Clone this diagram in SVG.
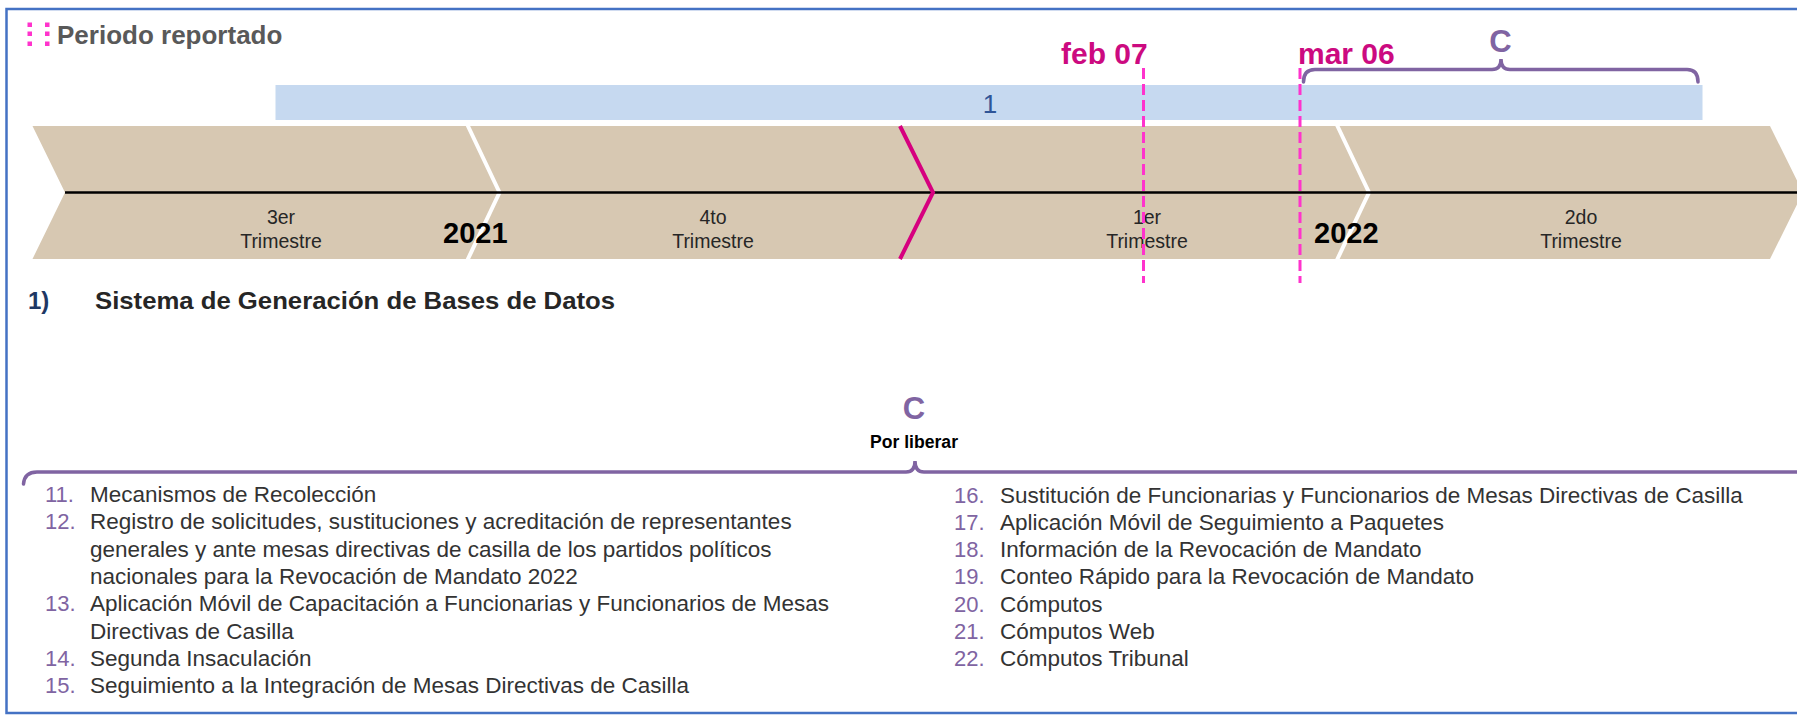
<svg xmlns="http://www.w3.org/2000/svg" width="1797" height="716" viewBox="0 0 1797 716">
<defs>
<style>
text { font-family: "Liberation Sans", Arial, sans-serif; }
.band-lbl { font-size: 19.5px; fill: #262626; text-anchor: middle; }
.year { font-size: 29px; font-weight: bold; fill: #000000; }
.date { font-size: 30px; font-weight: bold; fill: #CC0A80; }
.c { font-size: 31px; font-weight: bold; fill: #8064A2; text-anchor: middle; }
.num { font-size: 22px; fill: #8064A2; }
.item { font-size: 22.5px; fill: #333333; }
.dash { stroke: #FF33CC; stroke-width: 3; stroke-dasharray: 11 5; fill: none; }
.brace { stroke: #8064A2; stroke-width: 3.5; fill: none; stroke-linecap: round; }
.dot { fill: #FF33CC; }
.sep { stroke: #FFFFFF; stroke-width: 4; fill: none; }
</style>
</defs>

<rect id="frame" x="6.5" y="9" width="1800" height="704" fill="#FFFFFF" stroke="#4472C4" stroke-width="2.5"/>

<g id="header">
  <rect class="dot" x="27.5" y="22.5" width="4.5" height="4.5"/>
  <rect class="dot" x="27.5" y="31.5" width="4.5" height="4.5"/>
  <rect class="dot" x="27.5" y="41.5" width="4.5" height="4.5"/>
  <rect class="dot" x="45" y="22.5" width="4.5" height="4.5"/>
  <rect class="dot" x="45" y="31.5" width="4.5" height="4.5"/>
  <rect class="dot" x="45" y="41.5" width="4.5" height="4.5"/>
  <text x="57" y="43.5" font-size="26" font-weight="bold" fill="#595959">Periodo reportado</text>
</g>

<g id="period-bar">
  <rect x="275.5" y="85" width="1427" height="35" fill="#C6D9F0"/>
  <text x="990" y="113" font-family="'Open Sans', 'Liberation Sans', sans-serif" font-size="26" fill="#2F5597" text-anchor="middle">1</text>
</g>

<g id="timeline">
  <polygon points="32.5,126 1770,126 1803,192.5 1770,259 32.5,259 65,192.5" fill="#D7C8B2"/>
  <polyline class="sep" points="467,124 499.5,192.5 467,261"/>
  <polyline class="sep" points="1336.5,124 1369,192.5 1336.5,261"/>
  <line x1="65" y1="192.5" x2="1797" y2="192.5" stroke="#000000" stroke-width="2.5"/>
  <polyline points="900,126 933,192.5 900,259" fill="none" stroke="#D6007F" stroke-width="4"/>
  <text class="band-lbl" x="281" y="223.5">3er</text>
  <text class="band-lbl" x="281" y="247.5">Trimestre</text>
  <text class="band-lbl" x="713" y="223.5">4to</text>
  <text class="band-lbl" x="713" y="247.5">Trimestre</text>
  <text class="band-lbl" x="1147" y="223.5">1er</text>
  <text class="band-lbl" x="1147" y="247.5">Trimestre</text>
  <text class="band-lbl" x="1581" y="223.5">2do</text>
  <text class="band-lbl" x="1581" y="247.5">Trimestre</text>
  <text class="year" x="443" y="243">2021</text>
  <text class="year" x="1314" y="243">2022</text>
</g>

<g id="connectors">
  <line class="dash" x1="1143.5" y1="68" x2="1143.5" y2="283"/>
  <line class="dash" x1="1300" y1="68" x2="1300" y2="283"/>
  <path class="brace" d="M1303.5,82 Q1303.5,69.5 1315,69.5 L1492,69.5 Q1501,69.5 1501,59 Q1501,69.5 1510,69.5 L1687,69.5 Q1698,69.5 1698,82"/>
  <path class="brace" d="M23.5,484 Q24.5,472 37,472 L906,472 Q915,472 915,461 Q915,472 924,472 L1805,472"/>
</g>

<g id="markers">
  <text class="date" x="1061" y="64">feb 07</text>
  <text class="date" x="1298" y="64">mar 06</text>
  <text class="c" x="1500.5" y="52">C</text>
</g>

<g id="section-title">
  <text x="28" y="309" font-size="24" font-weight="bold" fill="#1F3864">1)</text>
  <text x="95" y="309" font-size="24" font-weight="bold" fill="#262626" textLength="520" lengthAdjust="spacingAndGlyphs">Sistema de Generación de Bases de Datos</text>
</g>

<g id="status">
  <text class="c" x="914" y="419">C</text>
  <text x="914" y="447.5" font-size="17.5" font-weight="bold" fill="#000000" text-anchor="middle" textLength="88" lengthAdjust="spacingAndGlyphs">Por liberar</text>
</g>

<g id="list-left">
  <text class="num" x="45" y="502">11.</text><text class="item" x="90" y="502">Mecanismos de Recolección</text>
  <text class="num" x="45" y="529.3">12.</text><text class="item" x="90" y="529.3">Registro de solicitudes, sustituciones y acreditación de representantes</text>
  <text class="item" x="90" y="556.6">generales y ante mesas directivas de casilla de los partidos políticos</text>
  <text class="item" x="90" y="583.9">nacionales para la Revocación de Mandato 2022</text>
  <text class="num" x="45" y="611.2">13.</text><text class="item" x="90" y="611.2">Aplicación Móvil de Capacitación a Funcionarias y Funcionarios de Mesas</text>
  <text class="item" x="90" y="638.5">Directivas de Casilla</text>
  <text class="num" x="45" y="665.8">14.</text><text class="item" x="90" y="665.8">Segunda Insaculación</text>
  <text class="num" x="45" y="693.1">15.</text><text class="item" x="90" y="693.1">Seguimiento a la Integración de Mesas Directivas de Casilla</text>
</g>

<g id="list-right">
  <text class="num" x="954" y="502.5">16.</text><text class="item" x="1000" y="502.5">Sustitución de Funcionarias y Funcionarios de Mesas Directivas de Casilla</text>
  <text class="num" x="954" y="529.8">17.</text><text class="item" x="1000" y="529.8">Aplicación Móvil de Seguimiento a Paquetes</text>
  <text class="num" x="954" y="557.1">18.</text><text class="item" x="1000" y="557.1">Información de la Revocación de Mandato</text>
  <text class="num" x="954" y="584.4">19.</text><text class="item" x="1000" y="584.4">Conteo Rápido para la Revocación de Mandato</text>
  <text class="num" x="954" y="611.7">20.</text><text class="item" x="1000" y="611.7">Cómputos</text>
  <text class="num" x="954" y="639">21.</text><text class="item" x="1000" y="639">Cómputos Web</text>
  <text class="num" x="954" y="666.3">22.</text><text class="item" x="1000" y="666.3">Cómputos Tribunal</text>
</g>
</svg>
